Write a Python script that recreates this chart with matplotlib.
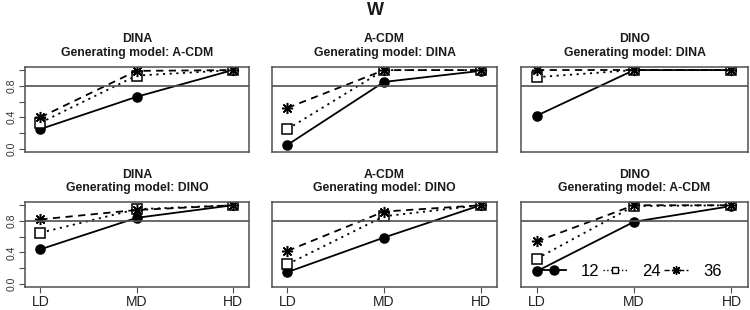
import numpy as np
import matplotlib.pyplot as plt
from matplotlib.lines import Line2D

plt.rcParams['font.family'] = ['Liberation Sans', 'DejaVu Sans']

levels = ['LD', 'MD', 'HD']
fit_models = ['DINA', 'A-CDM', 'DINO', 'DINA', 'A-CDM', 'DINO']
gen_models = ['A-CDM', 'DINA', 'DINA', 'DINO', 'DINO', 'A-CDM']

# proportion per panel, one list per test length
j12 = [[0.25, 0.66, 1.00], [0.05, 0.85, 0.99], [0.42, 1.00, 1.00],
       [0.44, 0.84, 1.00], [0.15, 0.59, 1.00], [0.16, 0.79, 0.99]]
j24 = [[0.33, 0.93, 1.00], [0.25, 1.00, 1.00], [0.91, 1.00, 1.00],
       [0.65, 0.95, 1.00], [0.25, 0.86, 1.00], [0.32, 0.99, 1.00]]
j36 = [[0.40, 0.99, 1.00], [0.52, 1.00, 1.00], [1.00, 1.00, 1.00],
       [0.82, 0.94, 1.00], [0.42, 0.92, 1.00], [0.54, 1.00, 1.00]]
lengths = ['12', '24', '36']
cutoff = 0.8

frame = '#505050'
styles = [dict(ls='-', marker='o', mfc='black', ms=6.5),
          dict(ls=(0, (1.2, 2.5)), marker='s', mfc='white', ms=6.5),
          dict(ls=(0, (4, 3)), marker=(8, 2, 0), mfc='black', ms=8)]

fig = plt.figure(figsize=(7.5, 3.1), dpi=100)
lefts = [0.0333, 0.3627, 0.6947]
widths = [0.2987, 0.3, 0.3026]
bottoms = [0.510, 0.074]
h = 0.274

x = np.arange(1, 4)
for i in range(6):
    r, c = divmod(i, 3)
    ax = fig.add_axes([lefts[c], bottoms[r], widths[c], h])
    for vals, st in zip([j12[i], j24[i], j36[i]], styles):
        ax.plot(x, vals, color='black', lw=1.3, mec='black', mew=1.1, **st)
    ax.axhline(cutoff, color=frame, lw=1.2)
    ax.set_xlim(0.84, 3.17)
    ax.set_ylim(-0.04, 1.04)
    for s in ax.spines.values():
        s.set_color(frame)
        s.set_linewidth(1.1)
    ax.set_title(fit_models[i] + '\nGenerating model: ' + gen_models[i],
                 fontsize=8.8, fontweight='bold', color='#1a1a1a',
                 linespacing=1.15, pad=8)
    if c == 0:
        ax.set_yticks([0, 0.2, 0.4, 0.6, 0.8, 1.0])
        ax.set_yticklabels(['0.0', '', '0.4', '', '0.8', ''],
                           rotation=90, va='center', fontsize=7.5)
        ax.tick_params(axis='y', length=4, color=frame, pad=2,
                       labelcolor='#333333')
    else:
        ax.set_yticks([])
    if r == 1:
        ax.set_xticks(x)
        ax.set_xticklabels(levels, fontsize=10)
        ax.tick_params(axis='x', length=4, color=frame, pad=2,
                       labelcolor='#222222')
    else:
        ax.set_xticks([])
    if i == 5:
        handles = [Line2D([], [], color='black', lw=1.3, mec='black',
                          ls='-', marker='o', ms=6.5),
                   Line2D([], [], color='black', lw=1.0, mec='black',
                          ls=':', marker='s', mfc='white', ms=5),
                   Line2D([], [], color='black', lw=1.0, mec='black',
                          ls='--', marker=(8, 2, 0), ms=6.5)]
        ax.legend(handles, lengths, ncol=3, frameon=False, fontsize=12,
                  loc='center right', bbox_to_anchor=(0.885, 0.18),
                  handlelength=1.45, handletextpad=0.9, columnspacing=0.2,
                  borderaxespad=0, borderpad=0)

fig.text(0.5, 0.967, 'W', ha='center', va='center', fontsize=13,
         fontweight='bold', color='#1a1a1a')

plt.savefig('out.png', dpi=100)
plt.close()
